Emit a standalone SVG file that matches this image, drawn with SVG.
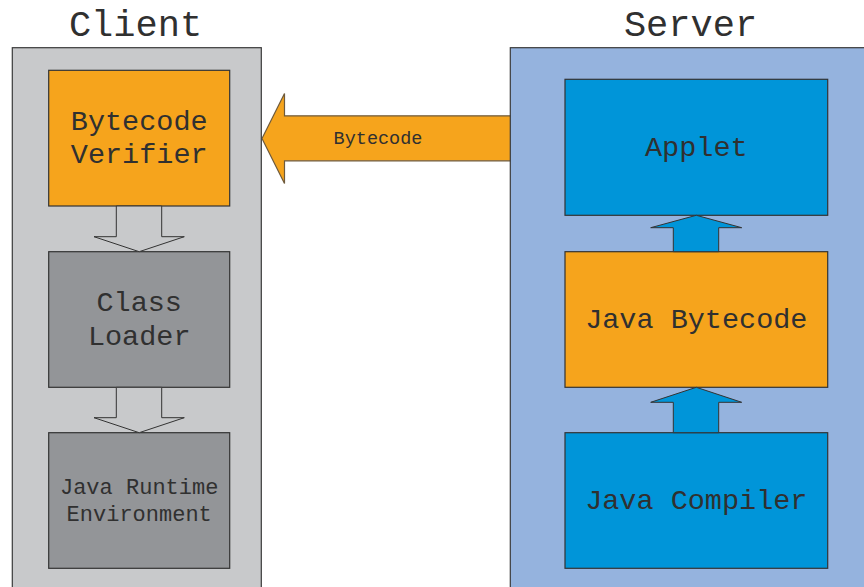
<svg xmlns="http://www.w3.org/2000/svg" width="864" height="587" viewBox="0 0 864 587">
  <style>
    .mono { font-family: "Liberation Mono", "Courier New", monospace; fill: #303030; text-anchor: middle; }
    .title { font-size: 37px; }
    .lbl { font-size: 28.5px; }
    .small { font-size: 22px; }
    .panel { stroke: #3a3a3a; stroke-width: 1.2; }
    .box { stroke: #333; stroke-width: 1.2; }
    .orange { fill: #f6a41c; }
    .grey { fill: #939598; }
    .blue { fill: #0095d9; }
    .hollow { fill: #c8c9cb; stroke: #333; stroke-width: 1; }
    .solid { fill: #0095d9; stroke: #333; stroke-width: 1; }
  </style>

  <rect width="864" height="587" fill="#ffffff"/>

  <!-- transfer arrow from server to client -->
  <g id="transfer">
    <polygon points="262,138.5 284.5,93.5 284.5,115.8 515,115.8 515,160.8 284.5,160.8 284.5,183.5" fill="#f6a41c" stroke="#6e5a3c" stroke-width="1.2"/>
    <text class="mono" x="378" y="144" style="font-size:18.5px">Bytecode</text>
  </g>

  <!-- client side -->
  <g id="client">
    <text class="mono title" x="135.5" y="36">Client</text>
    <rect class="panel" x="12.3" y="47.7" width="249" height="560" fill="#c8c9cb"/>
  </g>

  <g id="bytecode-verifier">
    <rect class="box orange" x="48.7" y="70.3" width="181" height="135.7"/>
    <text class="mono lbl" x="139.2" y="130">Bytecode</text>
    <text class="mono lbl" x="139.2" y="163">Verifier</text>
  </g>

  <g id="class-loader">
    <rect class="box grey" x="48.7" y="251.7" width="181" height="135.6"/>
    <text class="mono lbl" x="139.2" y="311">Class</text>
    <text class="mono lbl" x="139.2" y="345">Loader</text>
  </g>

  <g id="jre">
    <rect class="box grey" x="48.7" y="432.7" width="181" height="135.6"/>
    <text class="mono small" x="139.2" y="494">Java Runtime</text>
    <text class="mono small" x="139.2" y="521">Environment</text>
  </g>

  <!-- server side -->
  <g id="server">
    <text class="mono title" x="690.5" y="36">Server</text>
    <rect class="panel" x="510.3" y="47.7" width="370" height="560" fill="#95b3de"/>
  </g>

  <g id="applet">
    <rect class="box blue" x="565" y="79.3" width="262.7" height="136"/>
    <text class="mono lbl" x="696.3" y="156">Applet</text>
  </g>

  <g id="java-bytecode">
    <rect class="box orange" x="565" y="251.7" width="262.7" height="135.6"/>
    <text class="mono lbl" x="696.3" y="328">Java Bytecode</text>
  </g>

  <g id="java-compiler">
    <rect class="box blue" x="565" y="432.7" width="262.7" height="135.6"/>
    <text class="mono lbl" x="696.3" y="509">Java Compiler</text>
  </g>

  <!-- block arrows between stages -->
  <g id="connectors">
    <polygon class="hollow" points="116.3,206 116.3,236.7 94,236.7 139.2,251.7 184.3,236.7 161.7,236.7 161.7,206"/>
    <polygon class="hollow" points="116.3,387.3 116.3,417.7 94,417.7 139.2,432.7 184.3,417.7 161.7,417.7 161.7,387.3"/>
    <polygon class="solid" points="673.3,251.7 673.3,227.7 650.7,227.7 696.3,215.3 741.7,227.7 718.7,227.7 718.7,251.7"/>
    <polygon class="solid" points="673.3,432.7 673.3,402.3 650.7,402.3 696.3,387.3 741.7,402.3 718.7,402.3 718.7,432.7"/>
  </g>
</svg>
